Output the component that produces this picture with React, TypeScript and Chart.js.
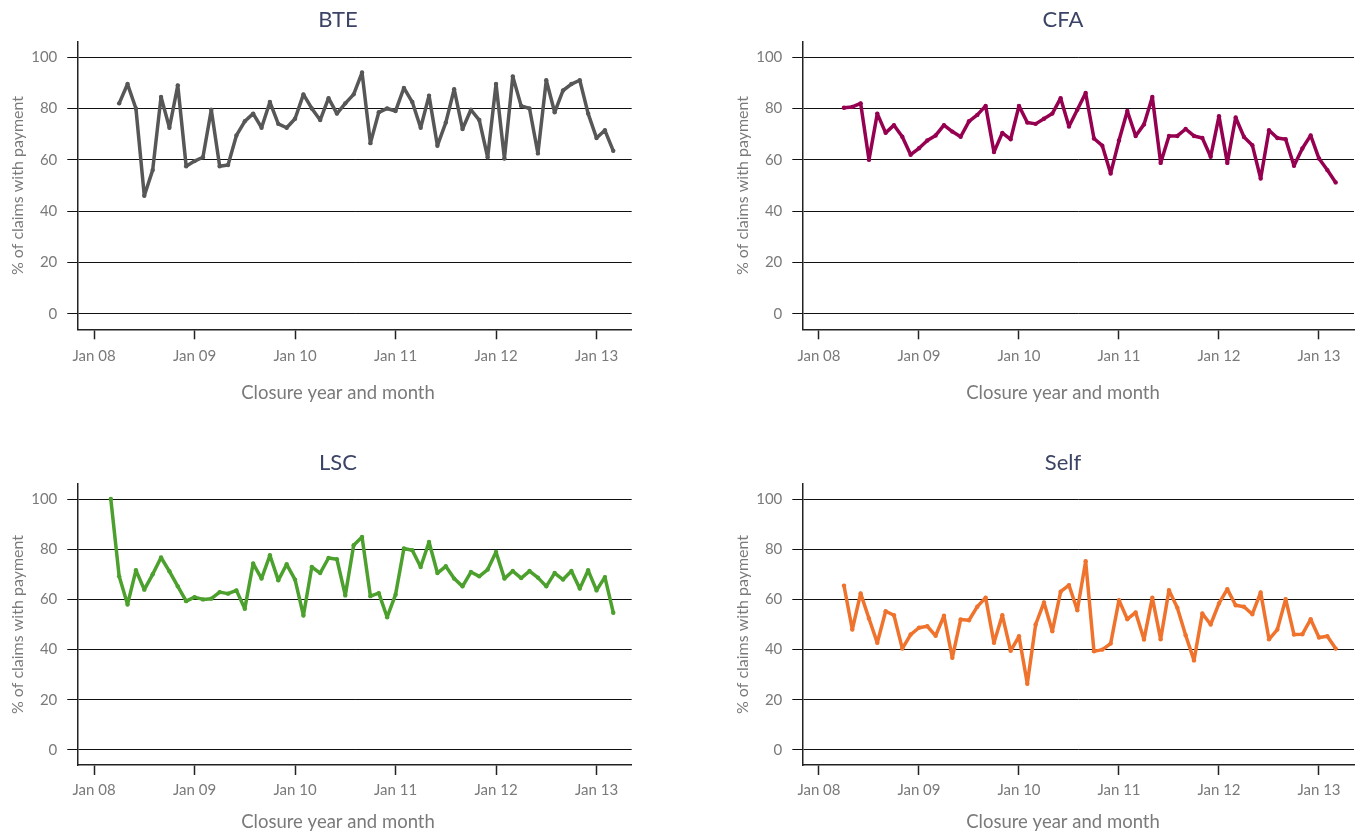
import React, { useEffect, useRef } from "react";
import { Chart, registerables } from "chart.js";

Chart.register(...registerables);

// ---- Data ----
const TICK_MONTHS = [0, 12, 24, 36, 48, 60];
const TICK_LABELS = ["Jan 08", "Jan 09", "Jan 10", "Jan 11", "Jan 12", "Jan 13"];
const Y_TICKS = [0, 20, 40, 60, 80, 100];

// first month index (months since Jan 08) of each series
const BTE_START = 3; // Apr 08
const CFA_START = 3; // Apr 08
const LSC_START = 2; // Mar 08
const SELF_START = 3; // Apr 08

const BTE_VALUES = [
  82, 89.5, 80, 46, 56, 84.5, 72.5, 89, 57.5, 59.5,
  61, 79.5, 57.5, 58, 69.5, 75, 78, 72.5, 82.5, 74,
  72.5, 76, 85.5, 80, 75.5, 84, 78, 82, 85.5, 94,
  66.5, 78.5, 80, 79, 88, 82.5, 72.5, 85, 65.5, 74.5,
  87.5, 72, 79.5, 75.5, 61, 89.5, 60.5, 92.5, 81, 80,
  62.5, 91, 78.5, 87, 89.5, 91, 78, 68.5, 71.5, 63.5,
];

const CFA_VALUES = [
  80.3, 80.6, 82, 60, 78, 70.5, 73.5, 69, 62, 64.5,
  67.5, 69.5, 73.5, 71, 69, 75, 77.5, 81, 63, 70.5,
  68, 81, 74.5, 74, 76, 78, 84, 73, 79.5, 86,
  68.3, 65.5, 54.7, 67.5, 79, 69.3, 73.8, 84.5, 58.8, 69.3,
  69.3, 72, 69.3, 68.5, 61.2, 77, 58.8, 76.5, 68.9, 65.7,
  52.7, 71.5, 68.5, 68, 57.7, 64.4, 69.5, 60.5, 56, 51.2,
];

const LSC_VALUES = [
  100, 69.2, 58, 71.6, 63.9, 70, 76.7, 71.2, 65.2, 59.3,
  60.9, 60, 60.3, 62.9, 62.3, 63.6, 56.3, 74.3, 68.3, 77.6,
  67.6, 74, 67.9, 53.6, 72.9, 70.5, 76.5, 76, 61.6, 81.6,
  84.9, 61.3, 62.5, 52.9, 61.9, 80.3, 79.6, 72.9, 82.9, 70.5,
  73.2, 68.3, 65.2, 70.9, 69.2, 71.9, 78.9, 68.3, 71.3, 68.5,
  71.3, 68.7, 65.2, 70.5, 67.9, 71.3, 64.3, 71.6, 63.6, 68.9, 54.7,
];

const SELF_VALUES = [
  65.5, 48, 62.4, 52.4, 42.7, 55.3, 53.7, 40.4, 46, 48.7,
  49.3, 45.5, 53.5, 36.7, 52, 51.7, 57.1, 60.7, 42.7, 53.7,
  39.5, 45.3, 26.4, 50, 58.8, 47.3, 63.1, 65.7, 55.7, 75.2,
  39.3, 40, 42.4, 59.7, 52.1, 54.8, 44, 60.7, 44.1, 63.7,
  56.7, 45.7, 35.7, 54.4, 50, 58.4, 64.1, 57.7, 57.1, 54.1,
  62.8, 44.1, 48, 60.1, 46, 46.1, 52.1, 44.8, 45.3, 40.4,
];

const X_TITLE = "Closure year and month";
const Y_TITLE = "% of claims with payment";

const FONT = "Lato, 'Open Sans', 'DejaVu Sans', sans-serif";

type PanelProps = {
  title: string;
  values: number[];
  start: number;
  color: string;
  left: number;
  top: number;
  width: number;
  height: number;
  chartTop: number;
  titleY: number;
  xAxisHeight: number;
  xTickPad: number;
  xTitleY: number;
};

function Panel(p: PanelProps) {
  const ref = useRef<HTMLCanvasElement | null>(null);
  useEffect(() => {
    if (!ref.current) return;
    const data = p.values.map((v, i) => ({ x: p.start + i, y: v }));
    const chartRight = 631.7;
    const textCenterX = 338;
    const textPlugin = {
      id: "panelTexts",
      afterDraw(c: any) {
        const ctx = c.ctx;
        ctx.save();
        ctx.textAlign = "center";
        ctx.textBaseline = "middle";
        ctx.fillStyle = "#3c4466";
        ctx.font = `22px ${FONT}`;
        ctx.fillText(p.title, textCenterX, p.titleY);
        ctx.fillStyle = "#7a7a7a";
        ctx.font = `18.5px ${FONT}`;
        ctx.fillText(X_TITLE, textCenterX, p.xTitleY);
        ctx.restore();
      },
    };
    const chart = new Chart(ref.current, {
      type: "line",
      data: {
        datasets: [
          {
            data,
            borderColor: p.color,
            backgroundColor: p.color,
            borderWidth: 3.5,
            borderJoinStyle: "round",
            borderCapStyle: "round",
            pointRadius: 2.2,
            pointBorderWidth: 0,
            pointBackgroundColor: p.color,
            tension: 0,
            fill: false,
          },
        ],
      },
      options: {
        responsive: false,
        animation: false,
        layout: { padding: { left: 0, right: p.width - chartRight, top: p.chartTop, bottom: 0 } },
        plugins: {
          legend: { display: false },
          tooltip: { enabled: false },
          title: { display: false },
        },
        scales: {
          x: {
            type: "linear",
            min: -2.0,
            max: 64.2,
            afterBuildTicks: (axis: any) => {
              axis.ticks = TICK_MONTHS.map((v) => ({ value: v }));
            },
            ticks: {
              callback: (_v: any, i: number) => TICK_LABELS[i],
              color: "#7a7a7a",
              font: { family: FONT, size: 15 },
              padding: p.xTickPad,
              maxRotation: 0,
              autoSkip: false,
            },
            grid: {
              display: true,
              drawOnChartArea: false,
              drawTicks: true,
              tickLength: 10,
              tickColor: "#222",
              tickWidth: 1.5,
            },
            border: { display: true, color: "#222", width: 1.5 },
            title: { display: false },
            afterFit: (s: any) => {
              s.height = p.xAxisHeight;
            },
          },
          y: {
            min: -6,
            max: 106,
            afterBuildTicks: (axis: any) => {
              axis.ticks = Y_TICKS.map((v) => ({ value: v }));
            },
            ticks: {
              color: "#7a7a7a",
              font: { family: FONT, size: 15 },
              padding: 10,
            },
            grid: {
              color: "#111",
              lineWidth: 1,
              drawTicks: true,
              tickLength: 10,
              tickColor: "#111",
            },
            border: { display: true, color: "#222", width: 1.5 },
            title: {
              display: true,
              text: Y_TITLE,
              color: "#7a7a7a",
              font: { family: FONT, size: 16 },
              padding: { top: 8, bottom: 0 },
            },
            afterFit: (s: any) => {
              s.width = 77.3;
            },
          },
        },
      } as any,
      plugins: [textPlugin],
    });
    return () => chart.destroy();
  }, []);
  return (
    <canvas
      ref={ref}
      width={p.width}
      height={p.height}
      style={{ position: "absolute", left: p.left, top: p.top, width: p.width, height: p.height }}
    />
  );
}

export default function App() {
  const topRow = {
    top: 0,
    height: 410,
    chartTop: 41.7,
    titleY: 20,
    xAxisHeight: 80.7,
    xTickPad: 7.7,
    xTitleY: 393,
  };
  const bottomRow = {
    top: 440,
    height: 394,
    chartTop: 44,
    titleY: 22.5,
    xAxisHeight: 69,
    xTickPad: 6,
    xTitleY: 382.5,
  };
  return (
    <div style={{ position: "absolute", left: 0, top: 0, width: 1358, height: 834, background: "#fff", overflow: "hidden" }}>
      <Panel title="BTE" values={BTE_VALUES} start={BTE_START} color="#575757" left={0} width={640} {...topRow} />
      <Panel title="CFA" values={CFA_VALUES} start={CFA_START} color="#960050" left={725} width={633} {...topRow} />
      <Panel title="LSC" values={LSC_VALUES} start={LSC_START} color="#4ca02d" left={0} width={640} {...bottomRow} />
      <Panel title="Self" values={SELF_VALUES} start={SELF_START} color="#ef732d" left={725} width={633} {...bottomRow} />
    </div>
  );
}
